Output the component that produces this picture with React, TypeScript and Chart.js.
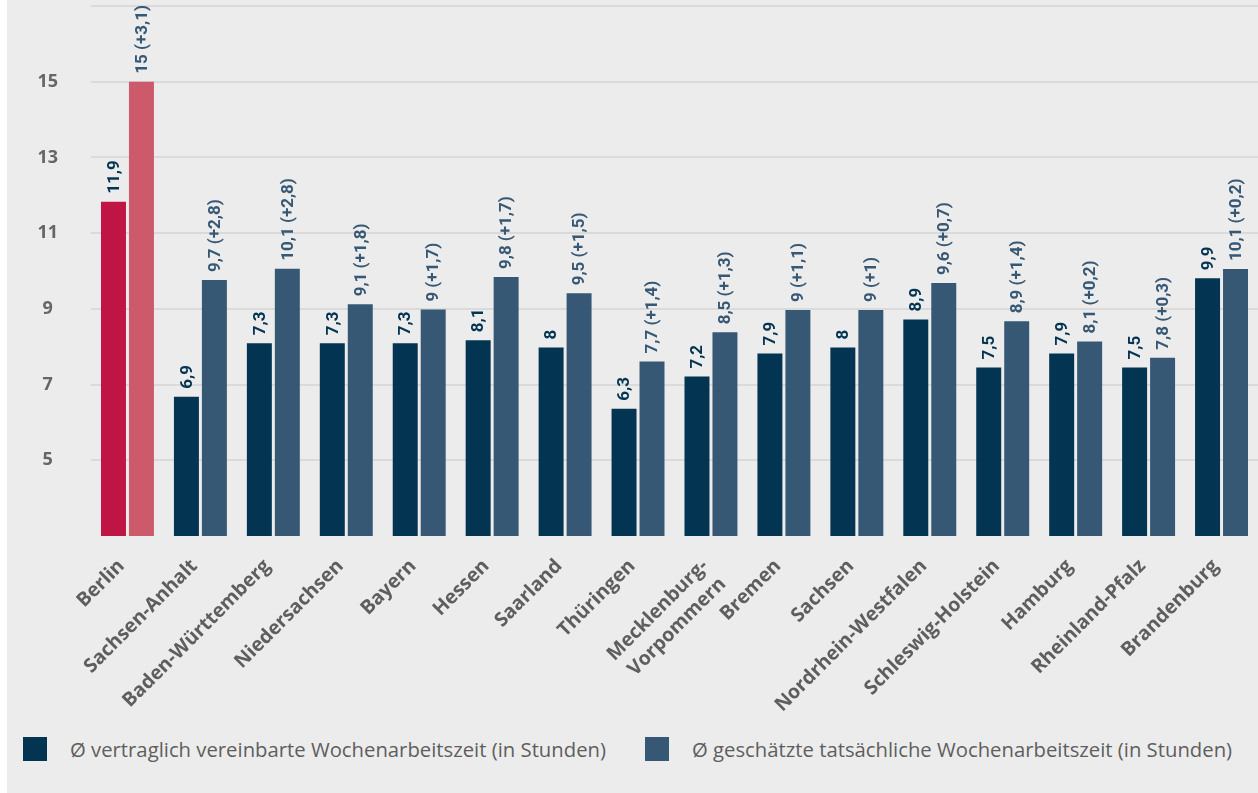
import React, { useEffect, useRef } from "react";
import { Chart, registerables } from "chart.js";

Chart.register(...registerables);

const categories: (string | string[])[] = [
  "Berlin",
  "Sachsen-Anhalt",
  "Baden-Württemberg",
  "Niedersachsen",
  "Bayern",
  "Hessen",
  "Saarland",
  "Thüringen",
  ["Mecklenburg-", "Vorpommern"],
  "Bremen",
  "Sachsen",
  "Nordrhein-Westfalen",
  "Schleswig-Holstein",
  "Hamburg",
  "Rheinland-Pfalz",
  "Brandenburg",
];

// bar heights as drawn in the picture
const contractualValues = [11.83, 6.68, 8.09, 8.09, 8.09, 8.17, 7.98, 6.36, 7.21, 7.82, 7.98, 8.72, 7.45, 7.82, 7.45, 9.81];
const actualValues = [15.0, 9.76, 10.06, 9.12, 8.98, 9.84, 9.41, 7.61, 8.38, 8.97, 8.97, 9.68, 8.67, 8.14, 7.71, 10.05];

// value labels as printed
const contractualLabels = ["11,9", "6,9", "7,3", "7,3", "7,3", "8,1", "8", "6,3", "7,2", "7,9", "8", "8,9", "7,5", "7,9", "7,5", "9,9"];
const actualLabels = [
  "15 (+3,1)", "9,7 (+2,8)", "10,1 (+2,8)", "9,1 (+1,8)", "9 (+1,7)", "9,8 (+1,7)", "9,5 (+1,5)", "7,7 (+1,4)",
  "8,5 (+1,3)", "9 (+1,1)", "9 (+1)", "9,6 (+0,7)", "8,9 (+1,4)", "8,1 (+0,2)", "7,8 (+0,3)", "10,1 (+0,2)",
];

const seriesNames = [
  "Ø vertraglich vereinbarte Wochenarbeitszeit (in Stunden)",
  "Ø geschätzte tatsächliche Wochenarbeitszeit (in Stunden)",
];

const yMin = 3;
const yMax = 17;
const yStep = 2;

const NAVY = "#033452";
const SLATE = "#375875";
const CRIMSON = "#be1544";
const PINK = "#cc5a6a";
const BG = "#ececec";
const TEXT_GRAY = "#5e5e5e";

const LABEL_FONT = "Roboto, 'Noto Sans', sans-serif";
const MAIN_FONT = "'Open Sans', 'Noto Sans', sans-serif";

const CANVAS_W = 1251;
const CANVAS_H = 720;
const PLOT_BOTTOM = 536;

const valueLabelPlugin = {
  id: "valueLabels",
  afterDatasetsDraw(chart: any) {
    const ctx = chart.ctx;
    const sets = [
      { labels: contractualLabels, color: NAVY },
      { labels: actualLabels, color: SLATE },
    ];
    sets.forEach((s, di) => {
      const meta = chart.getDatasetMeta(di);
      meta.data.forEach((bar: any, i: number) => {
        ctx.save();
        ctx.translate(bar.x, bar.y - 8);
        ctx.rotate(-Math.PI / 2);
        ctx.font = `bold 17px ${LABEL_FONT}`;
        ctx.fillStyle = s.color;
        ctx.textAlign = "left";
        ctx.textBaseline = "middle";
        ctx.fillText(s.labels[i], 0, 1);
        ctx.restore();
      });
    });
  },
};

export default function App() {
  const canvasRef = useRef<HTMLCanvasElement | null>(null);

  useEffect(() => {
    if (!canvasRef.current) return;
    const chart = new Chart(canvasRef.current, {
      type: "bar",
      data: {
        labels: categories,
        datasets: [
          {
            label: seriesNames[0],
            data: contractualValues,
            backgroundColor: contractualValues.map((_, i) => (i === 0 ? CRIMSON : NAVY)),
            barPercentage: 0.893,
            categoryPercentage: 0.767,
          },
          {
            label: seriesNames[1],
            data: actualValues,
            backgroundColor: actualValues.map((_, i) => (i === 0 ? PINK : SLATE)),
            barPercentage: 0.893,
            categoryPercentage: 0.767,
          },
        ],
      },
      options: {
        animation: false,
        responsive: false,
        layout: { padding: { top: 6, right: 0, bottom: 0, left: 0 } },
        plugins: {
          legend: { display: false },
          tooltip: { enabled: false },
        },
        scales: {
          x: {
            grid: { display: false },
            border: { display: false },
            ticks: {
              autoSkip: false,
              maxRotation: 45,
              minRotation: 45,
              padding: 10,
              labelOffset: -6,
              color: TEXT_GRAY,
              font: { family: MAIN_FONT, size: 19.5, weight: "bold", lineHeight: 1.3 },
            },
            afterFit(scale: any) {
              scale.height = CANVAS_H - PLOT_BOTTOM;
            },
          },
          y: {
            min: yMin,
            max: yMax,
            grid: {
              drawTicks: false,
              lineWidth: 2,
              color: (c: any) => (c.tick && c.tick.value === yMin ? "rgba(0,0,0,0)" : "#dadada"),
            },
            border: { display: false },
            ticks: {
              stepSize: yStep,
              padding: 33,
              crossAlign: "center",
              color: "#666666",
              font: { family: MAIN_FONT, size: 18, weight: "bold" },
              callback: (v: any) => (v === yMin || v === yMax ? "" : String(v)),
            },
            afterFit(scale: any) {
              scale.width = 84;
              scale.paddingTop = 0;
              scale.paddingBottom = 0;
            },
          },
        },
      },
      plugins: [valueLabelPlugin],
    } as any);
    return () => chart.destroy();
  }, []);

  const legendItem = (left: number, color: string, text: string) => (
    <div
      style={{
        position: "absolute",
        left,
        top: 737,
        height: 24,
        display: "flex",
        alignItems: "center",
        whiteSpace: "nowrap",
      }}
    >
      <div style={{ width: 24, height: 24, background: color, marginRight: 23, flex: "none" }} />
      <span style={{ fontFamily: MAIN_FONT, fontSize: 20.3, color: TEXT_GRAY, lineHeight: "24px" }}>{text}</span>
    </div>
  );

  return (
    <div
      style={{
        position: "fixed",
        left: 7,
        top: 0,
        width: CANVAS_W,
        height: 793,
        background: BG,
        overflow: "hidden",
      }}
    >
      <canvas ref={canvasRef} width={CANVAS_W} height={CANVAS_H} style={{ display: "block", width: CANVAS_W, height: CANVAS_H }} />
      {legendItem(16, NAVY, seriesNames[0])}
      {legendItem(638, SLATE, seriesNames[1])}
    </div>
  );
}
